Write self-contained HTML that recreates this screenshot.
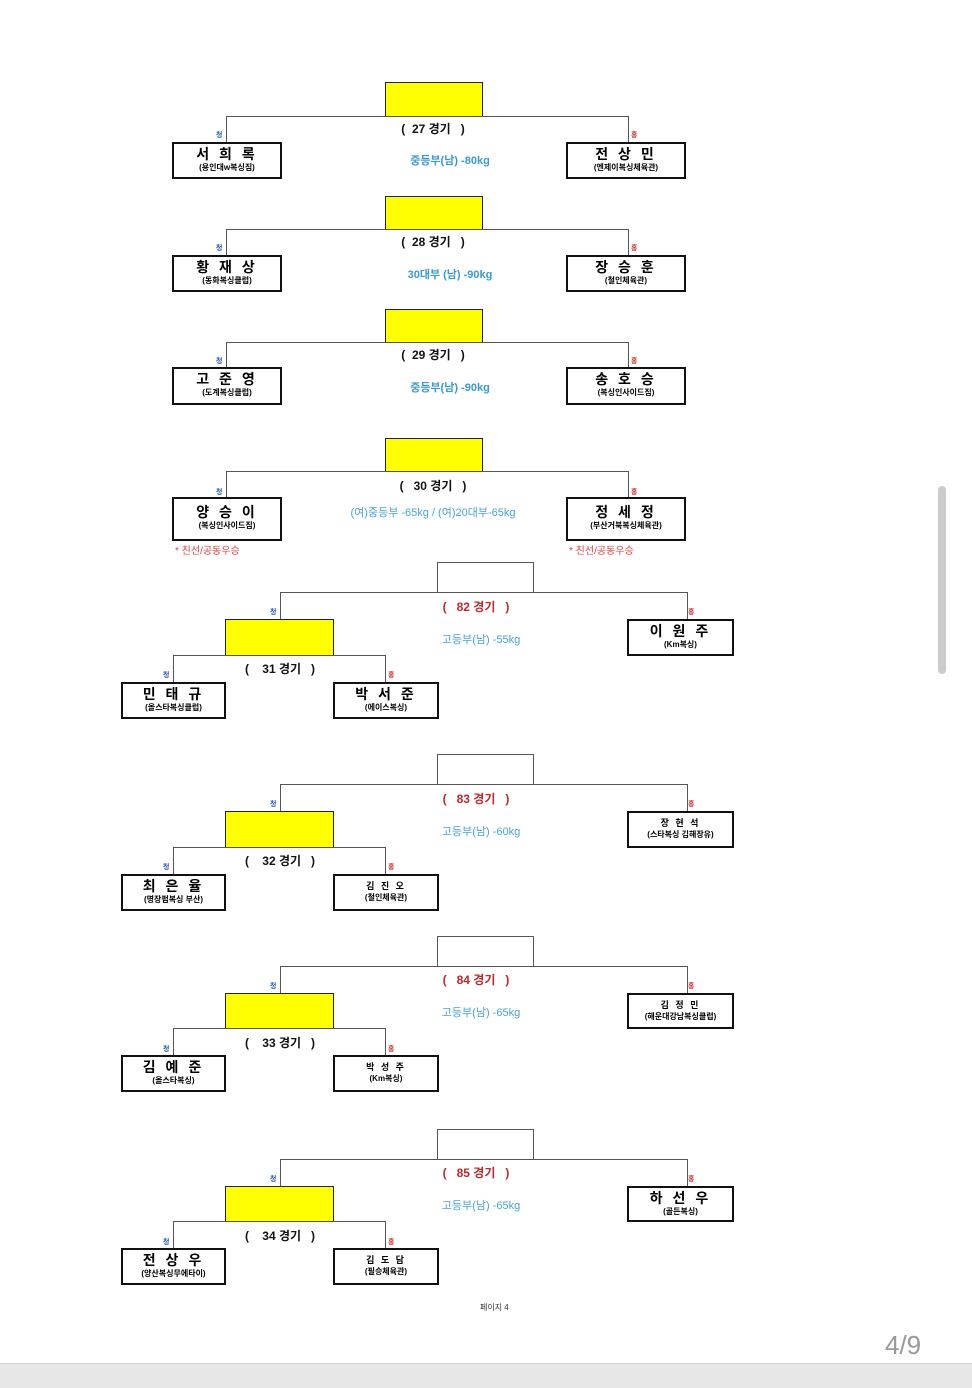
<!DOCTYPE html>
<html><head><meta charset="utf-8"><style>
body{margin:0;width:972px;height:1388px;background:#fff;position:relative;overflow:hidden;font-family:"Liberation Sans","Noto Sans CJK KR",sans-serif}
div{position:absolute;box-sizing:border-box}
.y{background:#ffff00;border:1.5px solid #222}
.w{background:#fff;border:1px solid #555}
.h{height:1px;background:#555}
.v{width:1px;background:#555}
.b{border:2px solid #111;border-right-width:2.5px;border-bottom-width:2.5px;background:#fff;text-align:center}
.b .n{position:static;font-weight:bold;font-size:14px;line-height:16px;margin-top:2px;letter-spacing:3px}
.b .s{position:static;font-size:8px;line-height:11px;font-weight:bold}
.b .n2{position:static;font-weight:bold;font-size:9px;line-height:11px;margin-top:5px;letter-spacing:2px}
.lb{font-size:12px;font-weight:bold;color:#111;white-space:pre;transform:translateX(-50%)}
.lr{color:#c0282c}
.dv{font-size:11px;color:#3a9ad0;font-weight:bold;white-space:nowrap;transform:translateX(-50%)}
.dv2{font-size:11px;color:#4aa3d6;white-space:nowrap;transform:translateX(-50%)}
.c{font-size:7px;color:#2a5aa8;font-weight:bold}
.r{font-size:7px;color:#d03030;font-weight:bold}
.note{font-size:10px;color:#e04040}
</style></head><body>

<!-- 27 -->
<div class="y" style="left:385px;top:82px;width:98px;height:35px"></div>
<div class="h" style="left:226px;top:116px;width:403px"></div>
<div class="v" style="left:226px;top:116px;height:26px"></div>
<div class="v" style="left:628px;top:116px;height:26px"></div>
<div class="lb" style="left:433px;top:120px">(  27 경기   )</div>
<div class="c" style="left:216px;top:130px">청</div><div class="r" style="left:631px;top:130px">홍</div>
<div class="b" style="left:172px;top:142px;width:110px;height:37px"><div class="n">서 희 록</div><div class="s">(용인대w복싱짐)</div></div>
<div class="b" style="left:566px;top:142px;width:120px;height:37px"><div class="n">전 상 민</div><div class="s">(엔제이복싱체육관)</div></div>
<div class="dv" style="left:450px;top:152px">중등부(남) -80kg</div>

<!-- 28 -->
<div class="y" style="left:385px;top:196px;width:98px;height:34px"></div>
<div class="h" style="left:226px;top:229px;width:403px"></div>
<div class="v" style="left:226px;top:229px;height:26px"></div>
<div class="v" style="left:628px;top:229px;height:26px"></div>
<div class="lb" style="left:433px;top:233px">(  28 경기   )</div>
<div class="c" style="left:216px;top:243px">청</div><div class="r" style="left:631px;top:243px">홍</div>
<div class="b" style="left:172px;top:255px;width:110px;height:37px"><div class="n">황 재 상</div><div class="s">(동화복싱클럽)</div></div>
<div class="b" style="left:566px;top:255px;width:120px;height:37px"><div class="n">장 승 훈</div><div class="s">(철인체육관)</div></div>
<div class="dv" style="left:450px;top:266px">30대부 (남) -90kg</div>

<!-- 29 -->
<div class="y" style="left:385px;top:309px;width:98px;height:34px"></div>
<div class="h" style="left:226px;top:342px;width:403px"></div>
<div class="v" style="left:226px;top:342px;height:26px"></div>
<div class="v" style="left:628px;top:342px;height:26px"></div>
<div class="lb" style="left:433px;top:346px">(  29 경기   )</div>
<div class="c" style="left:216px;top:356px">청</div><div class="r" style="left:631px;top:356px">홍</div>
<div class="b" style="left:172px;top:367px;width:110px;height:38px"><div class="n">고 준 영</div><div class="s">(도계복싱클럽)</div></div>
<div class="b" style="left:566px;top:367px;width:120px;height:38px"><div class="n">송 호 승</div><div class="s">(복싱인사이드짐)</div></div>
<div class="dv" style="left:450px;top:379px">중등부(남) -90kg</div>

<!-- 30 -->
<div class="y" style="left:385px;top:438px;width:98px;height:34px"></div>
<div class="h" style="left:226px;top:471px;width:403px"></div>
<div class="v" style="left:226px;top:471px;height:26px"></div>
<div class="v" style="left:628px;top:471px;height:26px"></div>
<div class="lb" style="left:433px;top:477px">(   30 경기   )</div>
<div class="c" style="left:216px;top:487px">청</div><div class="r" style="left:631px;top:487px">홍</div>
<div class="b" style="left:172px;top:497px;width:110px;height:44px"><div class="n" style="margin-top:5px">양 승 이</div><div class="s">(복싱인사이드짐)</div></div>
<div class="b" style="left:566px;top:497px;width:120px;height:44px"><div class="n" style="margin-top:5px">정 세 정</div><div class="s">(부산거북복싱체육관)</div></div>
<div class="dv2" style="left:433px;top:504px">(여)중등부 -65kg / (여)20대부-65kg</div>
<div class="note" style="left:175px;top:542px">* 친선/공동우승</div>
<div class="note" style="left:569px;top:542px">* 친선/공동우승</div>

<!-- 82 -->
<div class="w" style="left:437px;top:562px;width:97px;height:31px"></div>
<div class="h" style="left:280px;top:592px;width:408px"></div>
<div class="v" style="left:280px;top:592px;height:27px"></div>
<div class="v" style="left:687px;top:592px;height:27px"></div>
<div class="lb lr" style="left:476px;top:598px">(   82 경기   )</div>
<div class="c" style="left:270px;top:607px">청</div><div class="r" style="left:688px;top:607px">홍</div>
<div class="y" style="left:225px;top:619px;width:109px;height:37px"></div>
<div class="b" style="left:627px;top:619px;width:107px;height:37px"><div class="n">이 원 주</div><div class="s">(Km복싱)</div></div>
<div class="dv2" style="left:481px;top:631px">고등부(남) -55kg</div>
<div class="h" style="left:173px;top:655px;width:213px"></div>
<div class="v" style="left:173px;top:655px;height:27px"></div>
<div class="v" style="left:385px;top:655px;height:27px"></div>
<div class="lb" style="left:280px;top:660px">(    31 경기   )</div>
<div class="c" style="left:163px;top:670px">청</div><div class="r" style="left:388px;top:670px">홍</div>
<div class="b" style="left:121px;top:682px;width:105px;height:37px"><div class="n">민 태 규</div><div class="s">(올스타복싱클럽)</div></div>
<div class="b" style="left:333px;top:682px;width:106px;height:37px"><div class="n">박 서 준</div><div class="s">(에이스복싱)</div></div>

<!-- 83 -->
<div class="w" style="left:437px;top:754px;width:97px;height:31px"></div>
<div class="h" style="left:280px;top:784px;width:408px"></div>
<div class="v" style="left:280px;top:784px;height:27px"></div>
<div class="v" style="left:687px;top:784px;height:27px"></div>
<div class="lb lr" style="left:476px;top:790px">(   83 경기   )</div>
<div class="c" style="left:270px;top:799px">청</div><div class="r" style="left:688px;top:799px">홍</div>
<div class="y" style="left:225px;top:811px;width:109px;height:37px"></div>
<div class="b" style="left:627px;top:811px;width:107px;height:37px"><div class="n2">장 현 석</div><div class="s">(스타복싱 김해장유)</div></div>
<div class="dv2" style="left:481px;top:823px">고등부(남) -60kg</div>
<div class="h" style="left:173px;top:847px;width:213px"></div>
<div class="v" style="left:173px;top:847px;height:27px"></div>
<div class="v" style="left:385px;top:847px;height:27px"></div>
<div class="lb" style="left:280px;top:852px">(    32 경기   )</div>
<div class="c" style="left:163px;top:862px">청</div><div class="r" style="left:388px;top:862px">홍</div>
<div class="b" style="left:121px;top:874px;width:105px;height:37px"><div class="n">최 은 율</div><div class="s">(명장펌복싱 부산)</div></div>
<div class="b" style="left:333px;top:874px;width:106px;height:37px"><div class="n2">김 진 오</div><div class="s">(철인체육관)</div></div>

<!-- 84 -->
<div class="w" style="left:437px;top:936px;width:97px;height:31px"></div>
<div class="h" style="left:280px;top:966px;width:408px"></div>
<div class="v" style="left:280px;top:966px;height:27px"></div>
<div class="v" style="left:687px;top:966px;height:27px"></div>
<div class="lb lr" style="left:476px;top:971px">(   84 경기   )</div>
<div class="c" style="left:270px;top:981px">청</div><div class="r" style="left:688px;top:981px">홍</div>
<div class="y" style="left:225px;top:993px;width:109px;height:36px"></div>
<div class="b" style="left:627px;top:993px;width:107px;height:36px"><div class="n2">김 정 민</div><div class="s">(해운대강남복싱클럽)</div></div>
<div class="dv2" style="left:481px;top:1004px">고등부(남) -65kg</div>
<div class="h" style="left:173px;top:1028px;width:213px"></div>
<div class="v" style="left:173px;top:1028px;height:27px"></div>
<div class="v" style="left:385px;top:1028px;height:27px"></div>
<div class="lb" style="left:280px;top:1034px">(    33 경기   )</div>
<div class="c" style="left:163px;top:1044px">청</div><div class="r" style="left:388px;top:1044px">홍</div>
<div class="b" style="left:121px;top:1055px;width:105px;height:37px"><div class="n">김 예 준</div><div class="s">(올스타복싱)</div></div>
<div class="b" style="left:333px;top:1055px;width:106px;height:37px"><div class="n2">박 성 주</div><div class="s">(Km복싱)</div></div>

<!-- 85 -->
<div class="w" style="left:437px;top:1129px;width:97px;height:31px"></div>
<div class="h" style="left:280px;top:1159px;width:408px"></div>
<div class="v" style="left:280px;top:1159px;height:27px"></div>
<div class="v" style="left:687px;top:1159px;height:27px"></div>
<div class="lb lr" style="left:476px;top:1164px">(   85 경기   )</div>
<div class="c" style="left:270px;top:1174px">청</div><div class="r" style="left:688px;top:1174px">홍</div>
<div class="y" style="left:225px;top:1186px;width:109px;height:36px"></div>
<div class="b" style="left:627px;top:1186px;width:107px;height:36px"><div class="n">하 선 우</div><div class="s">(골든복싱)</div></div>
<div class="dv2" style="left:481px;top:1197px">고등부(남) -65kg</div>
<div class="h" style="left:173px;top:1221px;width:213px"></div>
<div class="v" style="left:173px;top:1221px;height:27px"></div>
<div class="v" style="left:385px;top:1221px;height:27px"></div>
<div class="lb" style="left:280px;top:1227px">(    34 경기   )</div>
<div class="c" style="left:163px;top:1237px">청</div><div class="r" style="left:388px;top:1237px">홍</div>
<div class="b" style="left:121px;top:1248px;width:105px;height:37px"><div class="n">전 상 우</div><div class="s">(양산복싱무에타이)</div></div>
<div class="b" style="left:333px;top:1248px;width:106px;height:37px"><div class="n2">김 도 담</div><div class="s">(필승체육관)</div></div>

<div style="left:480px;top:1302px;font-size:8px;color:#333">페이지 4</div>
<div style="left:885px;top:1330px;font-size:26px;color:#999">4/9</div>
<div style="left:938px;top:486px;width:8px;height:188px;background:#ccc;border-radius:4px"></div>
<div style="left:0;top:1363px;width:972px;height:25px;background:#e6e6e6;border-top:1px solid #d8d8d8"></div>
</body></html>
